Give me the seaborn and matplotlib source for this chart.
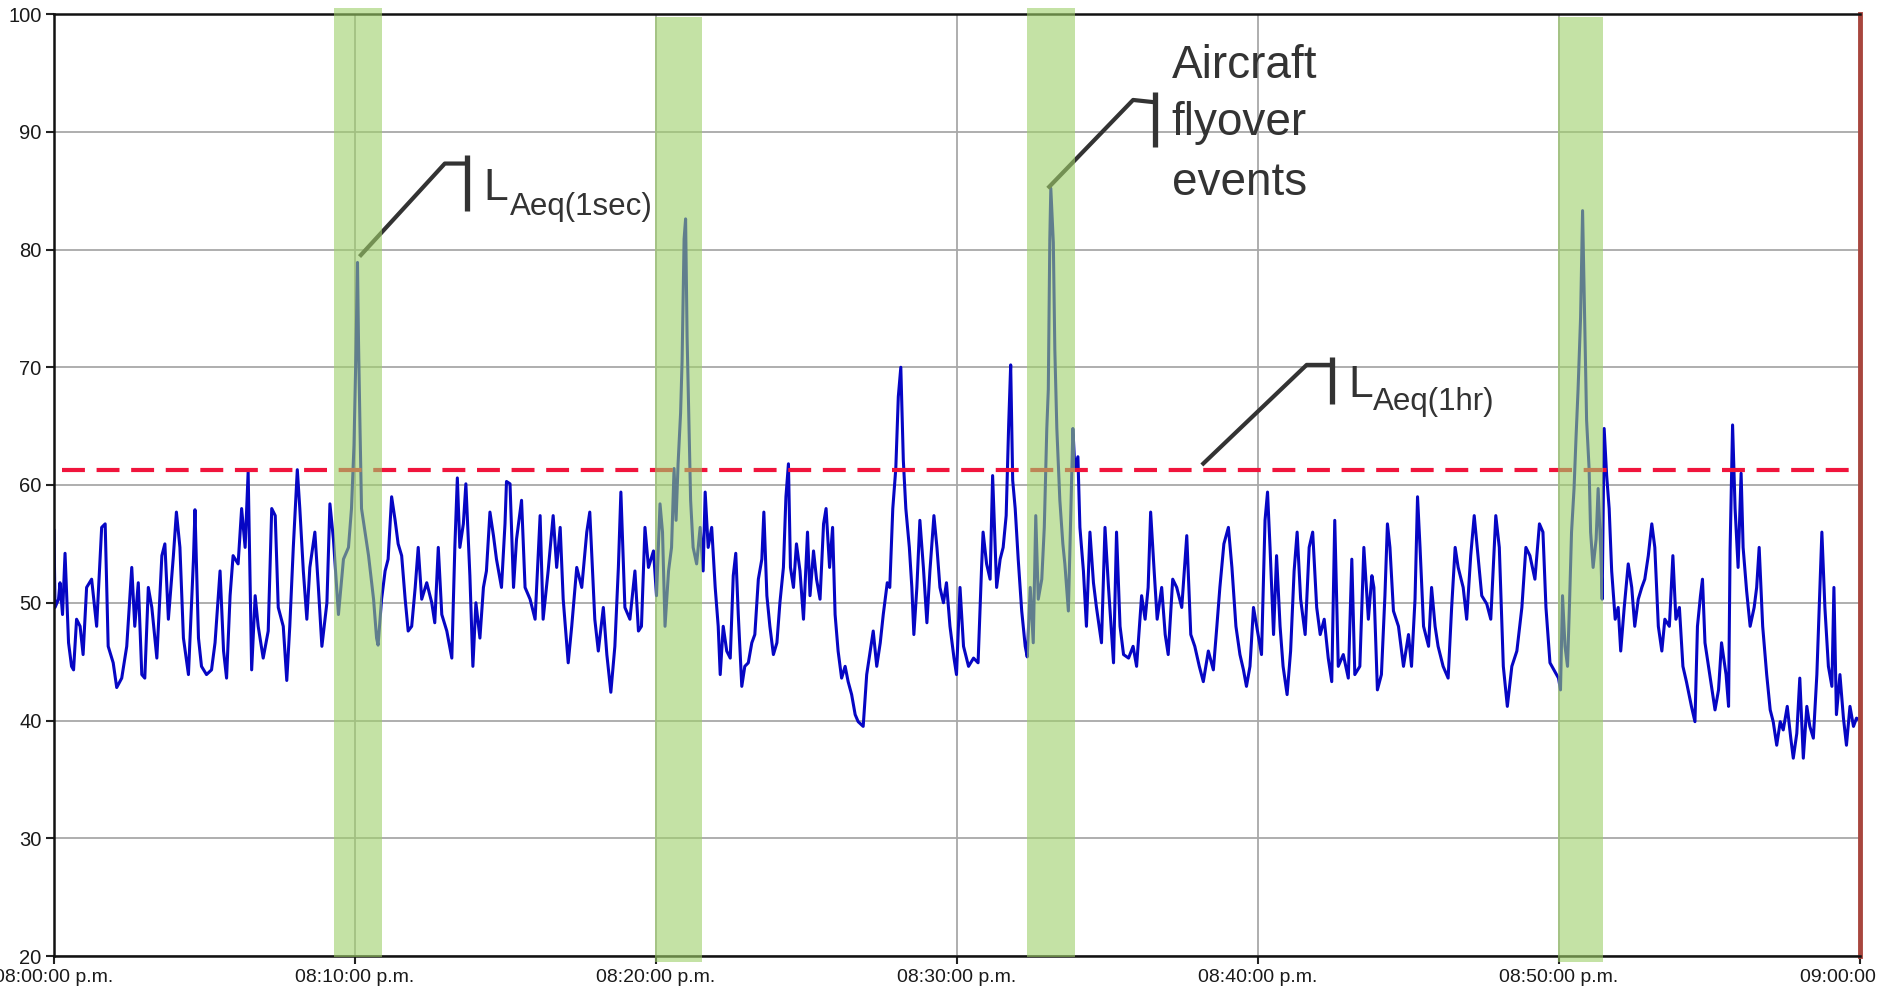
import numpy as np
import pandas as pd
import seaborn as sns
import matplotlib.pyplot as plt

# 1-second LAeq trace (seconds after 20:00, dB)
t_a = [0, 2, 9, 12, 17, 22, 29, 35, 39, 45, 52, 58, 65, 75, 85, 95, 102, 108, 118, 125,
       135, 145, 155, 161, 168, 175, 181, 188, 195, 205, 215, 221, 228, 238, 244, 251, 258, 268, 278, 281,
       288, 294, 304, 314, 321, 331, 338, 344, 351, 357, 367, 374, 381, 387, 394, 401, 407, 417, 427, 434,
       441, 447, 457, 464, 470, 477, 485, 490, 497, 504, 510, 520, 527, 534, 544, 550, 557, 567, 577, 587,
       593, 598, 602, 605]
db_a = [56.2, 49.6, 50.3, 51.7, 49.0, 54.2, 46.6, 44.6, 44.3, 48.6, 48.0, 45.6, 51.3, 52.0, 48.0, 56.4, 56.7, 46.3, 44.9, 42.8,
        43.6, 46.3, 53.0, 48.0, 51.7, 43.9, 43.6, 51.3, 49.6, 45.3, 54.0, 55.0, 48.6, 54.0, 57.7, 54.7, 47.0, 43.9, 53.7, 57.9,
        47.0, 44.6, 43.9, 44.3, 46.6, 52.7, 45.9, 43.6, 50.6, 54.0, 53.3, 58.0, 54.7, 61.1, 44.3, 50.6, 48.0, 45.3, 47.6, 58.0,
        57.4, 49.6, 48.0, 43.4, 48.0, 54.7, 61.3, 58.0, 52.7, 48.6, 53.0, 56.0, 51.3, 46.3, 50.0, 58.4, 55.4, 49.0, 53.7, 54.7,
        58.0, 63.4, 71.5, 78.9]

t_b = [607, 610, 613, 620, 627, 637, 643, 646, 653, 660, 666, 673, 680, 686, 693, 700, 706, 713, 720, 726,
       733, 743, 753, 759, 766, 773, 783, 793, 799, 804, 809, 816, 821, 829, 835, 841, 849, 856, 862, 869,
       876, 882, 892, 899, 902, 909, 916, 922, 932, 939, 949, 959, 969, 975, 985, 995, 1002, 1009, 1015, 1025,
       1032, 1042, 1052, 1062, 1068, 1078, 1085, 1095, 1102, 1110, 1118, 1125, 1130, 1138, 1148, 1158, 1165, 1171, 1178, 1185,
       1195]
db_b = [72.2, 64.8, 58.0, 56.0, 54.0, 50.3, 47.0, 46.4, 50.3, 52.7, 53.7, 59.0, 57.0, 55.0, 54.0, 50.3, 47.6, 48.0, 51.3, 54.7,
        50.3, 51.7, 50.0, 48.3, 54.7, 49.0, 47.6, 45.3, 54.7, 60.6, 54.7, 56.7, 60.1, 52.3, 44.6, 50.0, 47.0, 51.3, 52.7, 57.7,
        55.7, 53.7, 51.3, 56.7, 60.3, 60.1, 51.3, 55.4, 58.7, 51.3, 50.3, 48.6, 57.4, 48.6, 52.7, 57.4, 53.0, 56.4, 50.3, 44.9,
        48.0, 53.0, 51.3, 56.0, 57.7, 48.6, 45.9, 49.6, 45.6, 42.4, 46.3, 53.0, 59.4, 49.6, 48.6, 52.7, 47.6, 48.0, 56.4, 53.0,
        54.4]

t_c = [1201, 1208, 1213, 1218, 1225, 1231, 1236, 1240, 1244, 1249, 1252, 1256, 1259, 1262, 1266, 1269, 1274, 1281, 1288, 1294,
       1298, 1304, 1311, 1318, 1324, 1328, 1334, 1341, 1348, 1354, 1359, 1364, 1371, 1377, 1384, 1391, 1397, 1404, 1411, 1415,
       1421, 1427, 1434, 1441, 1447, 1454, 1459, 1464, 1468, 1474, 1480, 1487, 1494, 1502, 1507, 1514, 1520, 1527, 1534, 1539,
       1546, 1552, 1557, 1563, 1570, 1577, 1583, 1590, 1597, 1603, 1613, 1620, 1627, 1633, 1640, 1647, 1653, 1661, 1666, 1672,
       1678, 1683, 1688, 1693, 1698, 1705, 1710, 1714, 1720, 1726, 1733, 1740, 1746, 1754, 1760, 1766, 1773, 1779, 1786, 1794,
       1799]
db_c = [50.6, 58.4, 56.0, 48.0, 52.7, 54.7, 61.4, 57.0, 61.8, 66.1, 70.5, 80.9, 82.6, 72.5, 64.8, 58.7, 54.7, 53.3, 56.4, 52.7,
        59.4, 54.7, 56.4, 51.3, 48.0, 43.9, 48.0, 45.9, 45.3, 52.3, 54.2, 49.0, 42.9, 44.6, 44.9, 46.6, 47.3, 52.0, 53.7, 57.7,
        50.6, 48.0, 45.6, 46.6, 50.0, 53.0, 59.0, 61.8, 53.0, 51.3, 55.0, 52.7, 48.6, 56.0, 50.6, 54.4, 52.0, 50.3, 56.7, 58.0,
        53.0, 56.4, 49.0, 45.9, 43.6, 44.6, 43.3, 42.2, 40.5, 39.9, 39.5, 43.9, 45.9, 47.6, 44.6, 46.6, 49.0, 51.7, 51.3, 58.0,
        61.4, 67.5, 70.0, 62.1, 58.0, 54.7, 51.3, 47.3, 51.3, 57.0, 53.0, 48.3, 52.7, 57.4, 54.7, 51.3, 50.0, 51.7, 48.0, 45.3,
        43.9]

t_d = [1806, 1813, 1823, 1833, 1842, 1849, 1852, 1859, 1866, 1871, 1879, 1886, 1892, 1898, 1903, 1907, 1911, 1916, 1922, 1929,
       1936, 1940, 1946, 1952, 1957, 1962, 1969, 1974, 1979, 1982, 1985, 1987, 1992, 1995, 1999, 2005, 2011, 2015, 2022, 2027,
       2031, 2035, 2041, 2045, 2052, 2058, 2065, 2072, 2078, 2088, 2095, 2102, 2112, 2118, 2125, 2132, 2142, 2151, 2158, 2168,
       2175, 2181, 2186, 2193, 2199, 2208, 2215, 2221, 2230, 2238, 2248, 2258, 2266, 2274, 2283, 2291, 2301, 2311, 2318, 2324,
       2332, 2341, 2348, 2356, 2364, 2371, 2377, 2384, 2391]
db_d = [51.3, 46.3, 44.6, 45.3, 44.9, 53.0, 56.0, 53.3, 52.0, 60.8, 51.3, 53.7, 54.7, 57.4, 65.1, 70.2, 60.4, 58.0, 53.7, 49.3,
        46.3, 45.4, 51.3, 46.6, 57.4, 50.3, 52.0, 56.4, 64.8, 68.1, 80.9, 85.2, 80.6, 71.5, 64.8, 58.7, 55.0, 53.3, 49.3, 58.0,
        64.8, 61.4, 62.4, 56.4, 52.7, 48.0, 56.0, 51.7, 49.6, 46.6, 56.4, 51.3, 44.9, 56.0, 48.0, 45.6, 45.3, 46.3, 44.6, 50.6,
        48.6, 51.3, 57.7, 52.7, 48.6, 51.3, 47.3, 45.6, 52.0, 51.3, 49.6, 55.7, 47.3, 46.3, 44.6, 43.3, 45.9, 44.3, 48.0, 51.3,
        55.0, 56.4, 53.0, 48.0, 45.6, 44.3, 42.9, 44.6, 49.6]

t_e = [2407, 2414, 2419, 2424, 2431, 2437, 2444, 2450, 2458, 2465, 2472, 2478, 2485, 2494, 2502, 2509, 2517, 2524, 2532, 2540,
       2547, 2553, 2560, 2570, 2580, 2587, 2593, 2603, 2611, 2620, 2627, 2631, 2638, 2646, 2653, 2658, 2663, 2670, 2680, 2690,
       2700, 2706, 2713, 2718, 2723, 2730, 2740, 2746, 2753, 2759, 2769, 2779, 2786, 2793, 2799, 2809, 2816, 2824, 2831, 2837,
       2846, 2856, 2864, 2874, 2881, 2889, 2897, 2906, 2916, 2926, 2934, 2942, 2952, 2961, 2968, 2974, 2982]
db_e = [45.6, 57.0, 59.4, 54.7, 47.3, 54.0, 48.0, 44.6, 42.2, 45.9, 52.7, 56.0, 50.3, 47.3, 54.7, 56.0, 49.6, 47.3, 48.6, 45.3,
        43.3, 57.0, 44.6, 45.6, 43.6, 53.7, 43.9, 44.6, 54.7, 48.6, 52.3, 51.3, 42.6, 43.9, 50.6, 56.7, 54.7, 49.3, 48.0, 44.6,
        47.3, 44.6, 50.3, 59.0, 54.7, 48.0, 46.3, 51.3, 48.0, 46.3, 44.6, 43.6, 49.6, 54.7, 53.0, 51.3, 48.6, 54.0, 57.4, 54.7,
        50.6, 49.9, 48.6, 57.4, 54.7, 44.6, 41.2, 44.6, 45.9, 49.6, 54.7, 54.0, 52.0, 56.7, 56.0, 49.6, 44.9]

t_f = [2999, 3003, 3007, 3012, 3017, 3021, 3025, 3030, 3034, 3038, 3043, 3047, 3051, 3055, 3060, 3063, 3068, 3074, 3078, 3083,
       3086, 3090, 3095, 3100, 3105, 3112, 3118, 3123, 3130, 3138, 3145, 3151, 3158, 3165, 3171, 3178, 3185, 3191, 3198, 3205,
       3211, 3220, 3227, 3233, 3240, 3247, 3254, 3264, 3271, 3276, 3282, 3286, 3291, 3298, 3304, 3311, 3318, 3324, 3333, 3338,
       3341, 3346, 3351, 3357, 3363, 3367, 3374, 3381, 3389, 3394, 3399, 3406, 3414, 3421, 3427, 3434, 3441, 3447, 3455, 3462,
       3467, 3474, 3480, 3487, 3494, 3500, 3507, 3514, 3520, 3524, 3530, 3537, 3544, 3548, 3553, 3560, 3567, 3573, 3580, 3587,
       3593, 3600]
db_f = [43.6, 42.6, 50.6, 46.3, 44.6, 50.0, 56.0, 59.7, 64.1, 68.1, 74.2, 83.3, 74.2, 65.5, 61.4, 56.0, 53.0, 55.4, 59.7, 54.7,
        50.3, 64.8, 60.8, 58.0, 52.7, 48.6, 49.6, 45.9, 49.6, 53.3, 51.3, 48.0, 50.3, 51.3, 52.0, 54.0, 56.7, 54.7, 48.0, 45.9,
        48.6, 48.0, 54.0, 48.6, 49.6, 44.6, 43.3, 41.2, 39.9, 48.0, 50.6, 52.0, 46.6, 44.6, 42.9, 40.9, 42.6, 46.6, 43.9, 41.2,
        54.4, 65.1, 58.0, 53.0, 61.0, 54.7, 51.0, 48.0, 49.6, 51.3, 54.7, 48.0, 43.9, 40.9, 39.9, 37.9, 39.9, 39.2, 41.2, 38.5,
        36.8, 38.9, 43.6, 36.8, 41.2, 39.5, 38.5, 43.9, 51.3, 56.0, 49.6, 44.6, 42.9, 51.3, 40.5, 43.9, 40.2, 37.9, 41.2, 39.5,
        40.2, 40.0]

laeq_1hr = 61.3
event_start = [558, 1198, 1940, 2999]
event_end = [654, 1292, 2035, 3088]
tick_secs = [0, 600, 1200, 1800, 2400, 3000, 3600]
tick_labels = ['08:00:00 p.m.', '08:10:00 p.m.', '08:20:00 p.m.', '08:30:00 p.m.',
               '08:40:00 p.m.', '08:50:00 p.m.', '09:00:00 p.m.']
y_ticks = [20, 30, 40, 50, 60, 70, 80, 90, 100]

df = pd.DataFrame({'sec': t_a + t_b + t_c + t_d + t_e + t_f,
                   'db': db_a + db_b + db_c + db_d + db_e + db_f})

sns.set_style('white')
plt.rcParams['font.family'] = ['Liberation Sans', 'DejaVu Sans']

W, H = 1883, 1001
fig = plt.figure(figsize=(W / 100, H / 100), dpi=100)
ax = fig.add_axes([54 / W, 1 - 956 / H, 1806 / W, 942 / H])

# main trace
sns.lineplot(data=df, x='sec', y='db', ax=ax, color='#0606c4', lw=2.2,
             estimator=None, sort=False, zorder=2)

# LAeq(1hr) dashed line
ax.hlines(laeq_1hr, 16, 3580, colors='#f0143c', lw=3, linestyles=(0, (5.5, 2.8)), zorder=2.6)

ax.set_xlim(0, 3600)
ax.set_ylim(20, 100)
ax.set_xticks(tick_secs)
ax.set_xticklabels(tick_labels, fontsize=14, color='#1a1a1a')
ax.set_yticks(y_ticks)
ax.set_yticklabels([str(v) for v in y_ticks], fontsize=14.5, color='#1a1a1a')
ax.tick_params(axis='both', direction='out', length=6, width=1.5, color='#222222', pad=3,
               bottom=True, left=True)
ax.set_xlabel('')
ax.set_ylabel('')
ax.grid(True, color='#a8a8a8', lw=1.3, zorder=1)
ax.set_axisbelow(True)

for side in ['left', 'bottom', 'top']:
    ax.spines[side].set_color('#111111')
    ax.spines[side].set_linewidth(1.8)
ax.spines['right'].set_color('#a8463e')
ax.spines['right'].set_linewidth(3.5)

# aircraft flyover bands (drawn over the trace, translucent)
tops = [1.0064, 0.9968, 1.0064, 0.9968]
bottoms = [-0.001, -0.0064, -0.001, -0.0064]
for s, e, top, bot in zip(event_start, event_end, tops, bottoms):
    ax.axvspan(s, e, ymin=bot, ymax=top, color='#9ed069', alpha=0.6, lw=0,
               zorder=3, clip_on=False)

# callouts
ink = '#333333'


def callout(pts, bar_x, bar_y):
    xs, ys = zip(*pts)
    ax.plot(xs, ys, color=ink, lw=3, solid_capstyle='butt', zorder=2.5, clip_on=False)
    ax.plot([bar_x, bar_x], bar_y, color=ink, lw=3.8, solid_capstyle='butt', zorder=4, clip_on=False)


callout([(609, 79.4), (779, 87.3), (822, 87.3)], 823, (88.0, 83.3))
ax.text(855, 84.2, 'L', fontsize=32, color=ink, va='baseline', ha='left', zorder=5)
ax.text(909, 82.9, 'Aeq(1sec)', fontsize=22.5, color=ink, va='baseline', ha='left', zorder=5)

callout([(1981, 85.2), (2151, 92.7), (2195, 92.5)], 2195, (93.4, 88.7))
for word, base in zip(['Aircraft', 'flyover', 'events'], [94.6, 89.7, 84.6]):
    ax.text(2228, base, word, fontsize=33, color=ink, va='baseline', ha='left', zorder=5)

callout([(2288, 61.7), (2497, 70.2), (2547, 70.2)], 2547, (70.9, 66.9))
ax.text(2581, 67.5, 'L', fontsize=32, color=ink, va='baseline', ha='left', zorder=5)
ax.text(2629, 66.35, 'Aeq(1hr)', fontsize=22.5, color=ink, va='baseline', ha='left', zorder=5)

fig.savefig('out.png', dpi=100)
